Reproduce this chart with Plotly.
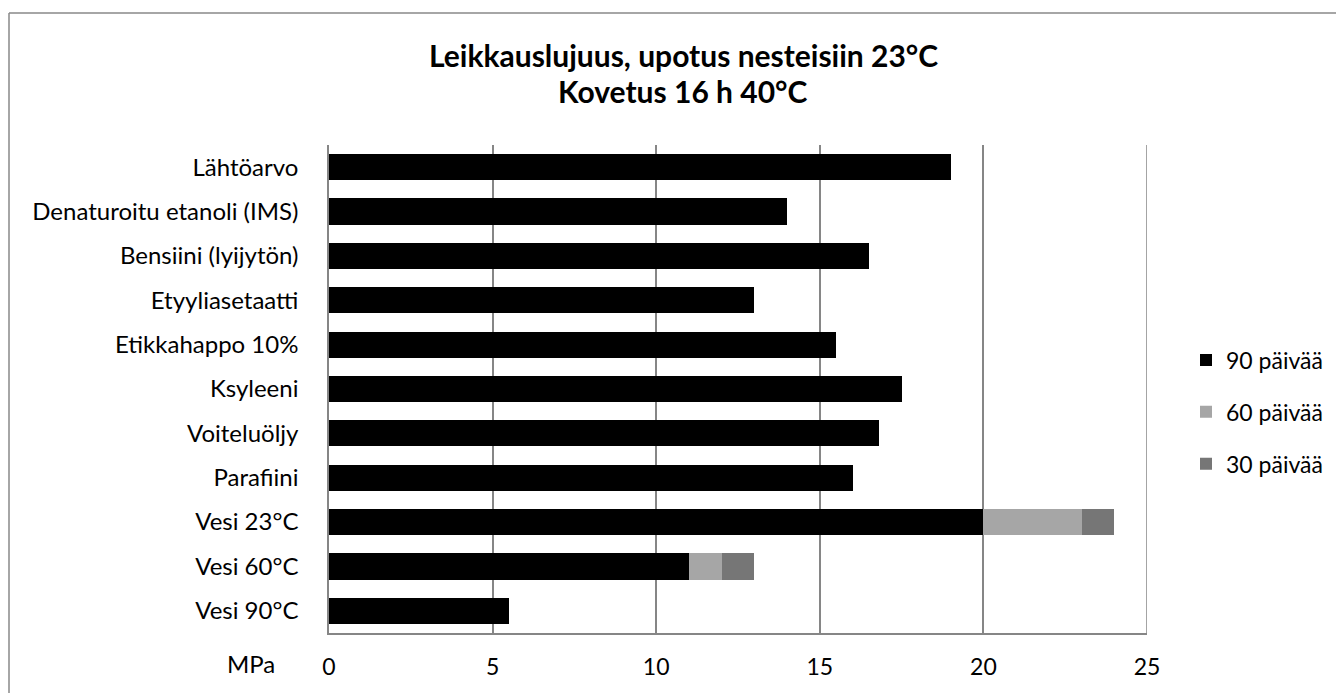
import plotly.graph_objects as go

categories = ["Lähtöarvo", "Denaturoitu etanoli (IMS)", "Bensiini (lyijytön)", "Etyyliasetaatti",
              "Etikkahappo 10%", "Ksyleeni", "Voiteluöljy", "Parafiini", "Vesi 23°C", "Vesi 60°C", "Vesi 90°C"]
d90 = [19, 14, 16.5, 13, 15.5, 17.5, 16.8, 16, 20, 11, 5.5]
d60 = [0, 0, 0, 0, 0, 0, 0, 0, 3, 1, 0]
d30 = [0, 0, 0, 0, 0, 0, 0, 0, 1, 1, 0]
series_names = ["90 päivää", "60 päivää", "30 päivää"]
colors = ["#000000", "#a6a6a6", "#767676"]
x_ticks = [0, 5, 10, 15, 20, 25]

OFF = 8  # page body margin
W, H = 1344 - OFF, 693 - OFF
L, R, T, B = 329 - OFF, 1147 - OFF, 145 - OFF, 633 - OFF
font = "Lato"

fig = go.Figure()
for i, (name, vals, c) in enumerate(zip(series_names, [d90, d60, d30], colors)):
    fig.add_trace(go.Bar(y=categories, x=vals, name=name, orientation="h", legendgroup="g%d" % i,
                         marker=dict(color=c, line=dict(width=0))))

def px(xref_px):
    return (xref_px - OFF - L) / (R - L)

def py(yref_px):
    return (B - (yref_px - OFF)) / (B - T)

fig.update_layout(
    width=W, height=H,
    margin=dict(l=L, r=W - R, t=T, b=H - B, autoexpand=False),
    barmode="stack", bargap=0.41,
    plot_bgcolor="white", paper_bgcolor="white",
    font=dict(family=font, color="#000000", size=24),
    showlegend=True,
    legend=dict(x=px(1186), y=py(412), xanchor="left", yanchor="middle",
                traceorder="grouped", font=dict(size=23), tracegroupgap=19,
                itemwidth=30, bgcolor="rgba(0,0,0,0)"),
    xaxis=dict(range=[0, 25], tickvals=x_ticks, showgrid=True, gridcolor="#868686", gridwidth=1.5,
               showline=True, linecolor="#868686", linewidth=1.5, mirror=False,
               zeroline=False, ticks="", ticklabelstandoff=13, tickfont=dict(size=23), fixedrange=True),
    yaxis=dict(autorange="reversed", showline=True, linecolor="#868686", linewidth=1.5,
               ticks="", ticklabelstandoff=24, tickfont=dict(size=24), showgrid=False, fixedrange=True),
    annotations=[
        dict(text="<b>Leikkauslujuus, upotus nesteisiin 23°C</b>", xref="paper", yref="paper",
             x=px(683), y=py(55), xanchor="center", yanchor="middle", showarrow=False,
             font=dict(size=30, family=font)),
        dict(text="<b>Kovetus 16 h 40°C</b>", xref="paper", yref="paper",
             x=px(683), y=py(91), xanchor="center", yanchor="middle", showarrow=False,
             font=dict(size=30, family=font)),
        dict(text="MPa", xref="paper", yref="paper", x=px(251), y=py(663),
             xanchor="center", yanchor="middle", showarrow=False, font=dict(size=24, family=font)),
    ],
    shapes=[
        dict(type="line", xref="paper", yref="paper", x0=px(9), x1=px(1360), y0=py(13), y1=py(13),
             line=dict(color="#888888", width=1.5)),
        dict(type="line", xref="paper", yref="paper", x0=px(9), x1=px(9), y0=py(13), y1=py(720),
             line=dict(color="#888888", width=1.5)),
        dict(type="line", xref="x", yref="paper", x0=25, x1=25, y0=0, y1=1,
             line=dict(color="#868686", width=1.5)),
    ],
)
fig.write_html("out.html")
